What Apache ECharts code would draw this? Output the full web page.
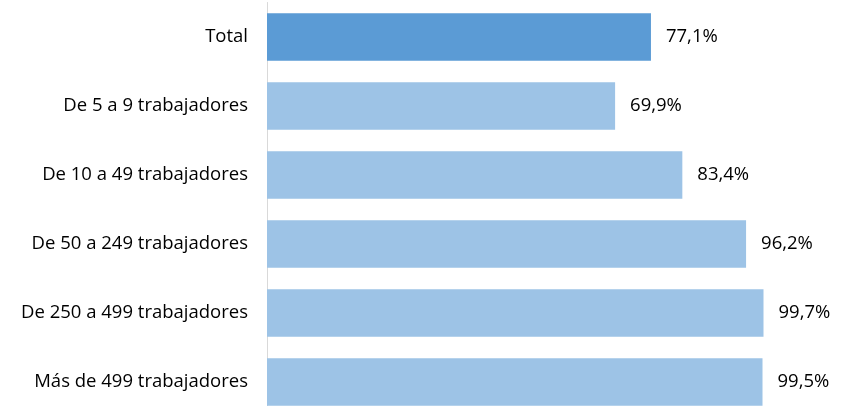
<!DOCTYPE html>
<html>
<head>
<meta charset="utf-8">
<script src="https://cdn.jsdelivr.net/npm/echarts@6/dist/echarts.min.js"></script>
<style>
    html, body { margin: 0; padding: 0; background: #fff; }
    #chart { width: 848px; height: 406px; }
</style>
</head>
<body>
<div id="chart"></div>
<script>
// categorias (de arriba a abajo)
var categories = ["Total", "De 5 a 9 trabajadores", "De 10 a 49 trabajadores", "De 50 a 249 trabajadores", "De 250 a 499 trabajadores", "Más de 499 trabajadores"];
var values = [77.1, 69.9, 83.4, 96.2, 99.7, 99.5];
var barColors = ["#5B9BD5", "#9DC3E6", "#9DC3E6", "#9DC3E6", "#9DC3E6", "#9DC3E6"];

var myChart = echarts.init(document.getElementById('chart'));
var option = {
    animation: false,
    grid: { left: 267, top: 2.5, width: 498, height: 414, outerBoundsMode: 'none', containLabel: false },
    xAxis: {
        type: 'value',
        min: 0,
        max: 100,
        show: false
    },
    yAxis: {
        type: 'category',
        inverse: true,
        data: categories,
        axisLine: {
            lineStyle: { color: '#D9D9D9', width: 1 }
        },
        axisTick: { show: false },
        axisLabel: {
            margin: 19,
            color: '#000',
            fontFamily: 'Open Sans',
            fontSize: 18.5
        }
    },
    series: {
        type: 'bar',
        barWidth: 47.5,
        data: values.map(function (v, i) {
            return { value: v, itemStyle: { color: barColors[i] } };
        }),
        label: {
            show: true,
            position: 'right',
            distance: 15,
            color: '#000',
            fontFamily: 'Open Sans',
            fontSize: 18.5,
            formatter: function (p) {
                return p.value.toFixed(1).replace('.', ',') + '%';
            }
        }
    }
};
myChart.setOption(option);
</script>
</body>
</html>
